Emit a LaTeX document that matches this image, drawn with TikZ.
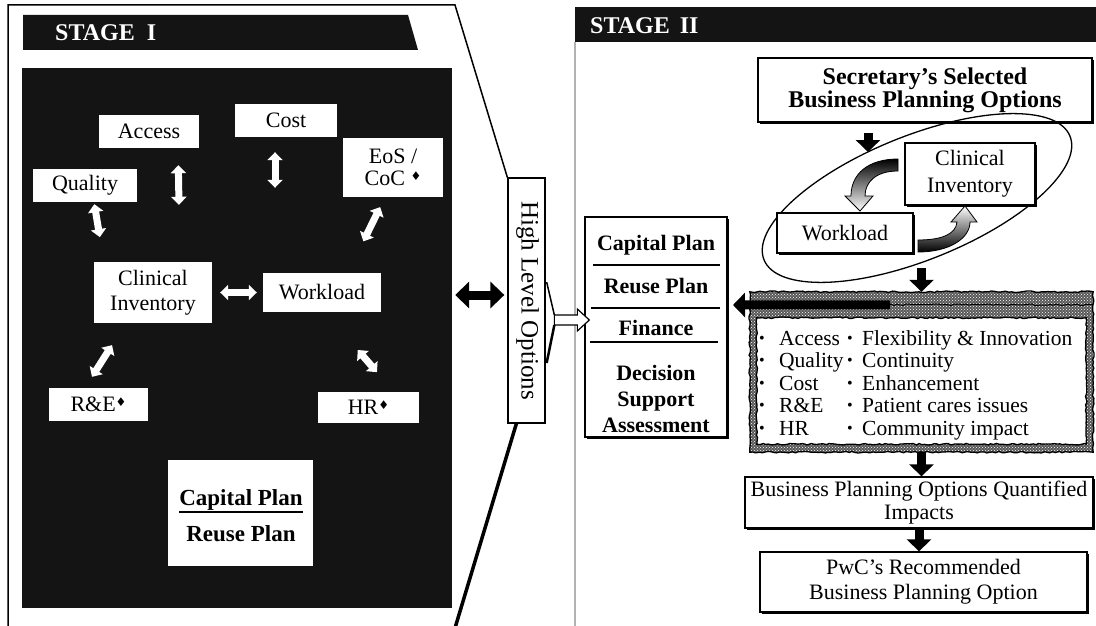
\documentclass[tikz,border=0pt]{standalone}
\usepackage{fontspec}
\setmainfont{Liberation Serif}
\newfontfamily\symbolfont{DejaVu Sans}
\usetikzlibrary{arrows.meta,calc,shapes.geometric,patterns,decorations.pathmorphing,shadows}
% small raised diamond used as a footnote mark
\newcommand\starmark{\raisebox{5pt}{\symbolfont\fontsize{12}{12}\selectfont\char"2666}}
% bullets for the two criteria columns
\newcommand\bulA{\makebox[20pt][l]{\raisebox{2pt}{\scalebox{0.75}{\textbullet}}}}
\newcommand\bulB{\makebox[15pt][l]{\raisebox{2pt}{\scalebox{0.75}{\textbullet}}}}
\begin{document}
\begin{tikzpicture}[x=1pt,y=-1pt,
  font=\fontsize{22}{23}\selectfont,
  wbox/.style={fill=white, inner sep=0pt, align=center},
  lbox/.style={draw=black, line width=1.3pt, fill=white, inner sep=0pt, align=center,
     drop shadow={shadow xshift=1.6pt, shadow yshift=-1.6pt, fill=black, opacity=1}},
  whitearr/.style={draw=white, line width=7pt, >={Triangle[length=8pt,width=15pt]}, <->},
  bigdbl/.style={draw=black, line width=9pt, >={Triangle[length=14pt,width=26pt]}, <->},
  blackarr/.style={draw=black, line width=9pt, -{Triangle[length=12pt,width=24pt]}},
  hdr/.style={text=white, font=\bfseries\fontsize{24}{24}\selectfont, anchor=base west, inner sep=0pt},
  boldtxt/.style={font=\bfseries\fontsize{22}{23}\selectfont, inner sep=0pt},
  rough/.style={line width=1.3pt, decorate, decoration={random steps, segment length=3pt, amplitude=0.8pt}},
]
\useasboundingbox (0,0) rectangle (1096,626);
\fill[white] (0,0) rectangle (1096,626);

% ---------------- Stage I ----------------
\node[fill=black!92, minimum width=430pt, minimum height=540pt, inner sep=0pt] (panel) at (237,338) {};
\fill[black!92] (23,15) -- (408,15) -- (418,50) -- (23,50) -- cycle;
\node[hdr] (hdrI) at (55,41) {STAGE\hspace{12pt}I};

\node[wbox, minimum width=100pt, minimum height=33pt] (access) at (149,131.5) {Access};
\node[wbox, minimum width=102pt, minimum height=33pt] (cost) at (286,120.5) {Cost};
\node[wbox, minimum width=100pt, minimum height=59pt, font=\fontsize{22}{22}\selectfont] (eos) at (393,167.5) {EoS /\\CoC \starmark};
\node[wbox, minimum width=104pt, minimum height=33pt] (quality) at (85,185.5) {Quality};
\node[wbox, minimum width=118pt, minimum height=61pt, font=\fontsize{22}{25}\selectfont] (clin) at (153,292.5) {Clinical\\Inventory};
\node[wbox, minimum width=118pt, minimum height=39pt] (work) at (322,292.5) {Workload};
\node[wbox, minimum width=99pt, minimum height=33pt] (re) at (98.5,404.5) {R\&E\starmark};
\node[wbox, minimum width=101pt, minimum height=31pt] (hr) at (368.5,407.5) {HR\starmark};
\node[wbox, minimum width=145pt, minimum height=106pt] (capI) at (240.5,513) {};
\node[boldtxt, font=\bfseries\fontsize{23}{23}\selectfont, anchor=base] (capItop) at (241,505) {Capital Plan};
\draw[line width=1.8pt] (capItop.south west) ++(0,2) -- ($(capItop.south east)+(0,2)$);
\node[boldtxt, font=\bfseries\fontsize{23}{23}\selectfont, anchor=base] (capIbot) at (241,541) {Reuse Plan};

% two-way links between the Stage I factors
\draw[whitearr, shorten <=17pt, shorten >=57pt] ([xshift=29pt]access.south) -- ([xshift=27pt]clin.north);
\draw[whitearr, shorten <=15pt, shorten >=85pt] ([xshift=-11pt]cost.south) -- ([xshift=-47pt]work.north);
\draw[whitearr, shorten <=2pt, shorten >=25pt] ([xshift=9pt]quality.south) -- ([xshift=-49pt]clin.north);
\draw[whitearr, shorten <=11pt, shorten >=35pt] ([xshift=-8pt]eos.south) -- ([xshift=26pt]work.north);
\draw[whitearr, shorten <=8pt, shorten >=6pt] (clin.east) -- (work.west);
\draw[whitearr, shorten <=26pt, shorten >=13pt] ([xshift=-27pt]clin.south) -- ([xshift=-13.5pt]re.north);
\draw[whitearr, shorten <=50pt, shorten >=26pt] ([xshift=3pt]work.south) -- ([xshift=25.5pt]hr.north);

% ---------------- High level options ----------------
\node[draw, line width=1.3pt, fill=white, minimum width=37pt, minimum height=245pt, inner sep=0pt] (hlo) at (526.5,300.5) {};
\node[rotate=-90, font=\fontsize{25}{25}\selectfont, inner sep=0pt] (hlotext) at ($(hlo.center)+(1,0)$) {High Level Options};
\draw[line width=1.5pt] (8,626) -- (8,5) -- (455,5) -- (hlo.north west);
\draw[line width=3.5pt] ($(hlo.south west)+(9,0)$) -- (455,628);
\draw[bigdbl] ($(panel.east |- hlo.west)+(3,-5.5)$) -- ($(hlo.west)+(-3,-5.5)$);

% ---------------- Stage II ----------------
\fill[black!92] (575,7) rectangle (1096,42);
\node[hdr] (hdrII) at (590,34) {STAGE\hspace{10pt}II};
\draw[gray!60, line width=1.2pt] (575,42) -- (575,626);

\node[lbox, minimum width=142pt, minimum height=220pt] (cap) at (656,327) {};
\node[boldtxt, anchor=base] (capA) at (656,250) {Capital Plan};
\draw[line width=1.3pt] (593,265) -- (720,265);
\node[boldtxt, anchor=base] (capB) at (656,293) {Reuse Plan};
\draw[line width=1.3pt] (591,308) -- (720,308);
\node[boldtxt, anchor=base] (capC) at (656,335) {Finance};
\draw[line width=1.3pt] (590,342) -- (718,342);
\node[boldtxt, anchor=center, align=center, font=\bfseries\fontsize{22}{26}\selectfont] (capD) at (656,399) {Decision\\Support\\Assessment};

% hollow arrow from the options box into the plan box
\draw[line width=1.5pt] ($(hlo.east)+(1,-18.5)$) -- ($(cap.west)+(-30,-12)$);
\draw[line width=2.5pt] ($(hlo.east)+(1,62.5)$) -- ($(cap.west)+(-30,-2)$);
\draw[fill=white, line width=1.2pt] ($(cap.west)+(-30,-12)$) -- ($(cap.west)+(-7,-12)$) -- ($(cap.west)+(-7,-18)$)
  -- ($(cap.west)+(5,-7)$) -- ($(cap.west)+(-7,4)$) -- ($(cap.west)+(-7,-2)$) -- ($(cap.west)+(-30,-2)$) -- cycle;

\node[lbox, minimum width=334pt, minimum height=64pt, font=\bfseries\fontsize{24}{23}\selectfont] (sec) at (925,90) {Secretary’s Selected\\Business Planning Options};
\node[draw, ellipse, line width=1.3pt, minimum width=330pt, minimum height=124pt, rotate=22, inner sep=0pt] (loop) at (917,198) {};
\node[lbox, minimum width=130pt, minimum height=62pt, font=\fontsize{22}{27}\selectfont] (cinv) at (970,174) {Clinical\\Inventory};
\node[lbox, minimum width=136pt, minimum height=40pt] (wload) at (845,233) {Workload};

% cycling arrows between the two loop boxes
\shadedraw[top color=black, bottom color=white, line width=0.8pt] (898,159) .. controls (868,159) and (851,174) .. (851,196)
  -- (845,196) -- (860,211) -- (873,196) -- (865,196) .. controls (865,182) and (876,171) .. (898,171) -- cycle;
\shadedraw[bottom color=black, top color=white, line width=0.8pt] (918,252) .. controls (950,252) and (970,238) .. (970,222)
  -- (977,222) -- (965,206) -- (951,222) -- (957,222) .. controls (956,234) and (942,240) .. (918,240) -- cycle;

\coordinate (loopin) at (868,152);
\draw[blackarr, shorten <=10pt] (sec.south -| loopin) -- (loopin);

% criteria box with rough textured frame
\node[fill=white, minimum width=343pt, minimum height=160pt, inner sep=0pt] (crit) at (921.5,372) {};
\fill[black!65, even odd rule] (crit.north west) rectangle (crit.south east)
  ($(crit.north west)+(7,26)$) rectangle ($(crit.south east)+(-7,-8)$);
\fill[pattern=crosshatch dots, pattern color=white, even odd rule] (crit.north west) rectangle (crit.south east)
  ($(crit.north west)+(7,26)$) rectangle ($(crit.south east)+(-7,-8)$);
\draw[rough] (crit.north west) rectangle (crit.south east);
\draw[rough] ($(crit.north west)+(7,26)$) rectangle ($(crit.south east)+(-7,-8)$);
\draw[rough, line width=1pt] ($(crit.north west)+(0,13)$) -- ($(crit.north east)+(0,13)$);
\node[anchor=base west, inner sep=0pt, font=\fontsize{21.5}{22.5}\selectfont] (critA) at (759,345)
  {\begin{tabular}[t]{@{}l@{}}\bulA Access\\ \bulA Quality\\ \bulA Cost\\ \bulA R\&E\\ \bulA HR\end{tabular}};
\node[anchor=base west, inner sep=0pt, font=\fontsize{21.5}{22.5}\selectfont] (critB) at (847,345)
  {\begin{tabular}[t]{@{}l@{}}\bulB Flexibility \& Innovation\\ \bulB Continuity\\ \bulB Enhancement\\ \bulB Patient cares issues\\ \bulB Community impact\end{tabular}};

\coordinate (loopout) at (921.5,268);
\draw[blackarr] (loopout) -- (crit.north);
\coordinate (critout) at (733,305);
\draw[blackarr] ($(crit.north west)+(140,13)$) -- (critout);

\node[lbox, minimum width=348pt, minimum height=51pt, font=\fontsize{22}{23}\selectfont] (bpo) at (919,502.5) {Business Planning Options Quantified\\Impacts};
\node[lbox, minimum width=327pt, minimum height=60pt, font=\fontsize{22}{25}\selectfont] (pwc) at (923.5,582) {PwC’s Recommended\\Business Planning Option};
\draw[blackarr] (crit.south) -- (crit.south |- bpo.north);
\draw[blackarr] (bpo.south) -- (bpo.south |- pwc.north);
\end{tikzpicture}
\end{document}
